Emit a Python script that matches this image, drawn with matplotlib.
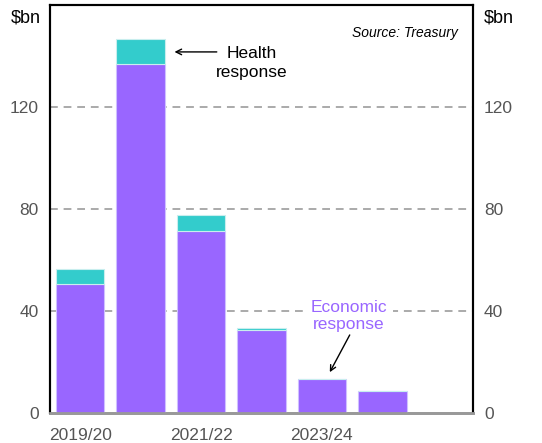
import numpy as np
import matplotlib
matplotlib.use("Agg")
import matplotlib.pyplot as plt

plt.rcParams['font.family'] = ['Liberation Sans', 'DejaVu Sans']

# Data ($bn)
years = ["2019/20", "2020/21", "2021/22", "2022/23", "2023/24", "2024/25", "2025/26"]
economic = [50.5, 136.7, 71.4, 32.7, 13.2, 8.6, 0.0]
health = [6.0, 9.8, 6.2, 0.6, 0.0, 0.0, 0.0]
yticks = [0, 40, 80, 120]

purple = "#9966ff"
teal = "#33cccc"
grey_txt = "#555555"

fig = plt.figure(figsize=(5.42, 4.43), dpi=100)
ax = fig.add_axes([50/542, 30/443, 423/542, 408/443])

x = np.arange(len(years))
econ = np.array(economic)
hlth = np.array(health)
ax.bar(x, econ, width=0.8, color=purple, edgecolor="#cfc0ff", linewidth=0.8, zorder=3)
ax.bar(x, hlth, bottom=econ, width=0.8, color=teal, edgecolor="#c8eeee", linewidth=0.8, zorder=3)

ax.set_xlim(-0.5, len(years) - 0.5)
ax.set_ylim(0, 160)
ax.set_yticks(yticks)
ax.set_yticklabels([str(t) for t in yticks])
ax.set_xticks(x[::2][:3])
ax.set_xticklabels([years[i] for i in x[::2][:3]])
ax.tick_params(axis="both", length=0, labelsize=12.5, colors=grey_txt)
ax.tick_params(axis="y", pad=8)
ax.tick_params(axis="x", pad=11)

for t in yticks[1:]:
    ax.axhline(t, color="#aaaaaa", lw=1.4, ls=(0, (4, 3)), zorder=1)

ax2 = ax.twinx()
ax2.set_ylim(ax.get_ylim())
ax2.set_yticks(yticks)
ax2.set_yticklabels([str(t) for t in yticks])
ax2.tick_params(axis="y", length=0, labelsize=12.5, colors=grey_txt, pad=8)

for a in (ax, ax2):
    for s in ("left", "right", "top"):
        a.spines[s].set_color("black")
        a.spines[s].set_linewidth(1.5)
    a.spines["bottom"].set_color("#999999")
    a.spines["bottom"].set_linewidth(2)

fig.text(26/542, 1 - 18/443, "$bn", ha="center", va="center", fontsize=13, color="black")
fig.text(499/542, 1 - 18/443, "$bn", ha="center", va="center", fontsize=13, color="black")

ax.text(6.25, 149, "Source: Treasury", ha="right", va="center", fontsize=10, style="italic", zorder=5)

ax.text(2.84, 137.2, "Health\nresponse", ha="center", va="center", fontsize=12.5,
        color="black", linespacing=1.3, zorder=5)
ax.annotate("", xy=(1.56, 141.6), xytext=(2.26, 141.6),
            arrowprops=dict(arrowstyle="->", color="black", lw=1, shrinkA=0, shrinkB=0), zorder=5)

ax.text(4.45, 38.0, "Economic\nresponse", ha="center", va="center", fontsize=12.5,
        color=purple, linespacing=1.1, zorder=5,
        bbox=dict(facecolor="white", edgecolor="none", pad=4))
ax.annotate("", xy=(4.13, 16), xytext=(4.46, 30.6),
            arrowprops=dict(arrowstyle="->", color="black", lw=1, shrinkA=0, shrinkB=0), zorder=5)

fig.savefig("out.png", dpi=100)
